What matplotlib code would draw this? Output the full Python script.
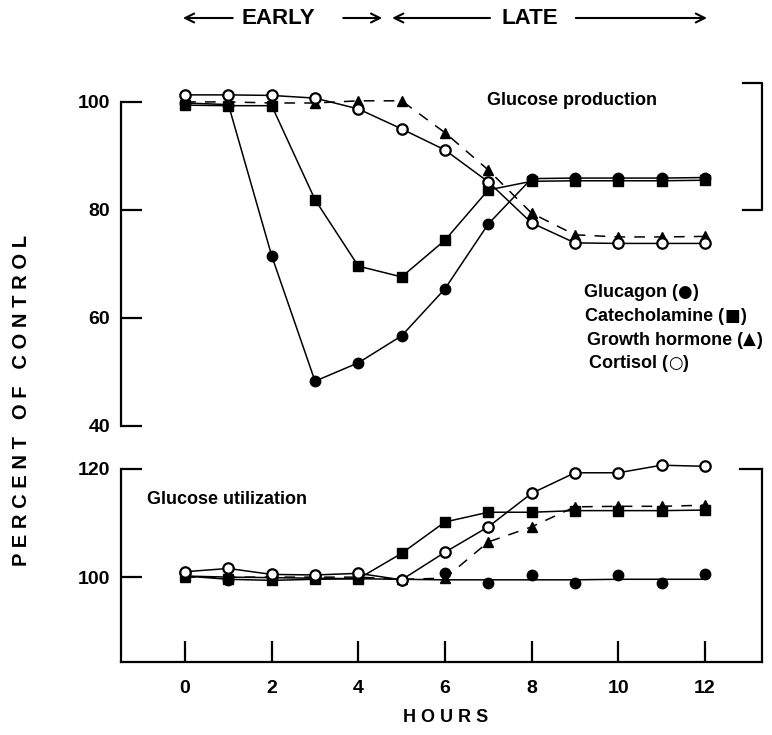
#!/usr/bin/env python3
from __future__ import annotations

import matplotlib

matplotlib.use("Agg")
import matplotlib.pyplot as plt
from matplotlib.offsetbox import AnnotationBbox, HPacker, TextArea
from matplotlib.transforms import blended_transform_factory

FONT = ["Liberation Sans", "DejaVu Sans"]

hours = [0, 1, 2, 3, 4, 5, 6, 7, 8, 9, 10, 11, 12]

# glucose production, percent of control
glucagon_prod = [99.8, 99.5, 71.5, 48.3, 51.7, 56.7, 65.4, 77.4, 85.8, 85.9, 85.9, 85.9, 86.0]
catechol_prod = [99.4, 99.3, 99.3, 81.9, 69.6, 67.6, 74.4, 83.7, 85.3, 85.4, 85.4, 85.4, 85.5]
gh_prod = [100.0, 100.0, 99.8, 99.8, 100.2, 100.2, 94.3, 87.4, 79.4, 75.4, 75.0, 75.0, 75.1]
cortisol_prod = [101.3, 101.3, 101.2, 100.7, 98.7, 95.0, 91.1, 85.2, 77.6, 73.9, 73.8, 73.8, 73.8]

# glucose utilization, percent of control
glucagon_util = [100.8, 99.4, 100.0, 100.3, 99.8, 99.4, 100.7, 99.0, 100.4, 99.0, 100.4, 99.0, 100.6]
glucagon_util_line = [100.2, 100.0, 99.9, 99.8, 99.7, 99.6, 99.5, 99.5, 99.5, 99.5, 99.6, 99.6, 99.6]
catechol_util = [100.2, 99.6, 99.4, 99.6, 99.7, 104.4, 110.2, 112.0, 112.0, 112.3, 112.3, 112.3, 112.4]
gh_util = [100.0, 100.0, 100.0, 100.0, 100.0, 99.6, 99.8, 106.5, 109.3, 113.0, 113.1, 113.1, 113.3]
cortisol_util = [101.0, 101.6, 100.5, 100.4, 100.7, 99.5, 104.6, 109.3, 115.5, 119.3, 119.3, 120.7, 120.5]

top_ticks = [40, 60, 80, 100]
bot_ticks = [100, 120]
x_ticks = [0, 2, 4, 6, 8, 10, 12]

legend_names = ["Glucagon", "Catecholamine", "Growth hormone", "Cortisol"]
legend_symbols = ["\u25cf", "\u25a0", "\u25b2", "\u25cb"]

LW = 1.1
MS = 7.5


def draw_series(ax, glucagon, catechol, gh, cortisol, glucagon_line=None):
    kw = dict(color="black", lw=LW, clip_on=False)
    if glucagon_line is None:
        ax.plot(hours, glucagon, marker="o", ms=MS, **kw)
    else:
        ax.plot(hours, glucagon_line, **kw)
        ax.plot(hours, glucagon, ls="none", marker="o", ms=MS, color="black", clip_on=False)
    ax.plot(hours, catechol, marker="s", ms=MS - 1, **kw)
    ax.plot(hours, gh, marker="^", ms=MS - 0.5, dashes=(7, 6), **kw)
    ax.plot(hours, cortisol, marker="o", ms=MS, mfc="white", mew=1.6, **kw)


def style_axis(ax, ticks):
    for side in ("top", "right", "bottom", "left"):
        ax.spines[side].set_linewidth(1.6)
    ax.set_xlim(-1.48, 13.32)
    ax.set_yticks(ticks)
    ax.set_yticklabels([str(t) for t in ticks], family=FONT, fontsize=14, fontweight="bold")
    ax.tick_params(axis="y", direction="in", length=15, width=1.6, pad=8)


def legend_entry(ax, x, y, name, symbol):
    props = dict(family=FONT, fontsize=13, fontweight="bold")
    parts = [
        TextArea(name + " (", textprops=props),
        TextArea(symbol, textprops=dict(family="DejaVu Sans", fontsize=12)),
        TextArea(")", textprops=props),
    ]
    box = HPacker(children=parts, sep=0, pad=0, align="baseline")
    ab = AnnotationBbox(box, (x, y), xycoords="data", box_alignment=(0, 0.5), frameon=False, pad=0)
    ax.add_artist(ab)


def main() -> None:
    fig = plt.figure(figsize=(7.72, 7.35), dpi=100)
    left, width = 121 / 772, 641 / 772
    ax_top = fig.add_axes([left, 1 - 426 / 735, width, 343 / 735])
    ax_bot = fig.add_axes([left, 1 - 662 / 735, width, 193 / 735])

    # top panel: production
    draw_series(ax_top, glucagon_prod, catechol_prod, gh_prod, cortisol_prod)
    ax_top.set_ylim(40, 103.5)
    style_axis(ax_top, top_ticks)
    for side in ("top", "right", "bottom"):
        ax_top.spines[side].set_visible(False)
    ax_top.spines["left"].set_bounds(40, 100)
    ax_top.set_xticks([])
    ax_top.plot([12.88, 13.32, 13.32, 12.88], [103.5, 103.5, 80, 80], color="black", lw=1.6, clip_on=False)
    ax_top.text(6.97, 100.2, "Glucose production", family=FONT, fontsize=13, fontweight="bold", va="center")
    for i, (name, sym) in enumerate(zip(legend_names, legend_symbols)):
        legend_entry(ax_top, 9.2 + 0.04 * i, 64.8 - 4.4 * i, name, sym)

    # bottom panel: utilization
    draw_series(ax_bot, glucagon_util, catechol_util, gh_util, cortisol_util, glucagon_util_line)
    ax_bot.set_ylim(84.3, 120)
    style_axis(ax_bot, bot_ticks)
    ax_bot.spines["top"].set_visible(False)
    ax_bot.spines["left"].set_bounds(84.3, 120)
    ax_bot.plot([12.82, 13.32], [120, 120], color="black", lw=1.6, clip_on=False)
    ax_bot.set_xticks(x_ticks)
    ax_bot.set_xticklabels([str(t) for t in x_ticks], family=FONT, fontsize=14, fontweight="bold")
    ax_bot.tick_params(axis="x", direction="in", length=15, width=1.6, pad=13)
    ax_bot.text(-0.88, 114.3, "Glucose utilization", family=FONT, fontsize=13, fontweight="bold", va="center")

    # axis titles
    fig.text(22 / 772, 1 - 400 / 735, "P E R C E N T   O F   C O N T R O L", family=FONT, fontsize=14.5,
             fontweight="bold", rotation=90, ha="center", va="center")
    fig.text(446 / 772, 1 - 718 / 735, "H O U R S", family=FONT, fontsize=13, fontweight="bold",
             ha="center", va="center")

    # EARLY / LATE header
    trans = blended_transform_factory(ax_top.transData, fig.transFigure)
    y_head = 1 - 18 / 735
    arrow = dict(arrowstyle="->", color="black", lw=1.5, mutation_scale=16, shrinkA=0, shrinkB=0)
    for x0, x1 in ((1.1, -0.05), (3.65, 4.55), (7.04, 4.78), (9.02, 12.05)):
        ax_top.annotate("", xy=(x1, y_head), xytext=(x0, y_head), xycoords=trans, textcoords=trans,
                        arrowprops=arrow)
    ax_top.text(2.15, y_head, "EARLY", transform=trans, family=FONT, fontsize=16, fontweight="bold",
                ha="center", va="center")
    ax_top.text(7.96, y_head, "LATE", transform=trans, family=FONT, fontsize=16, fontweight="bold",
                ha="center", va="center")

    fig.savefig("out.png", dpi=100)
    plt.close(fig)


if __name__ == "__main__":
    main()
